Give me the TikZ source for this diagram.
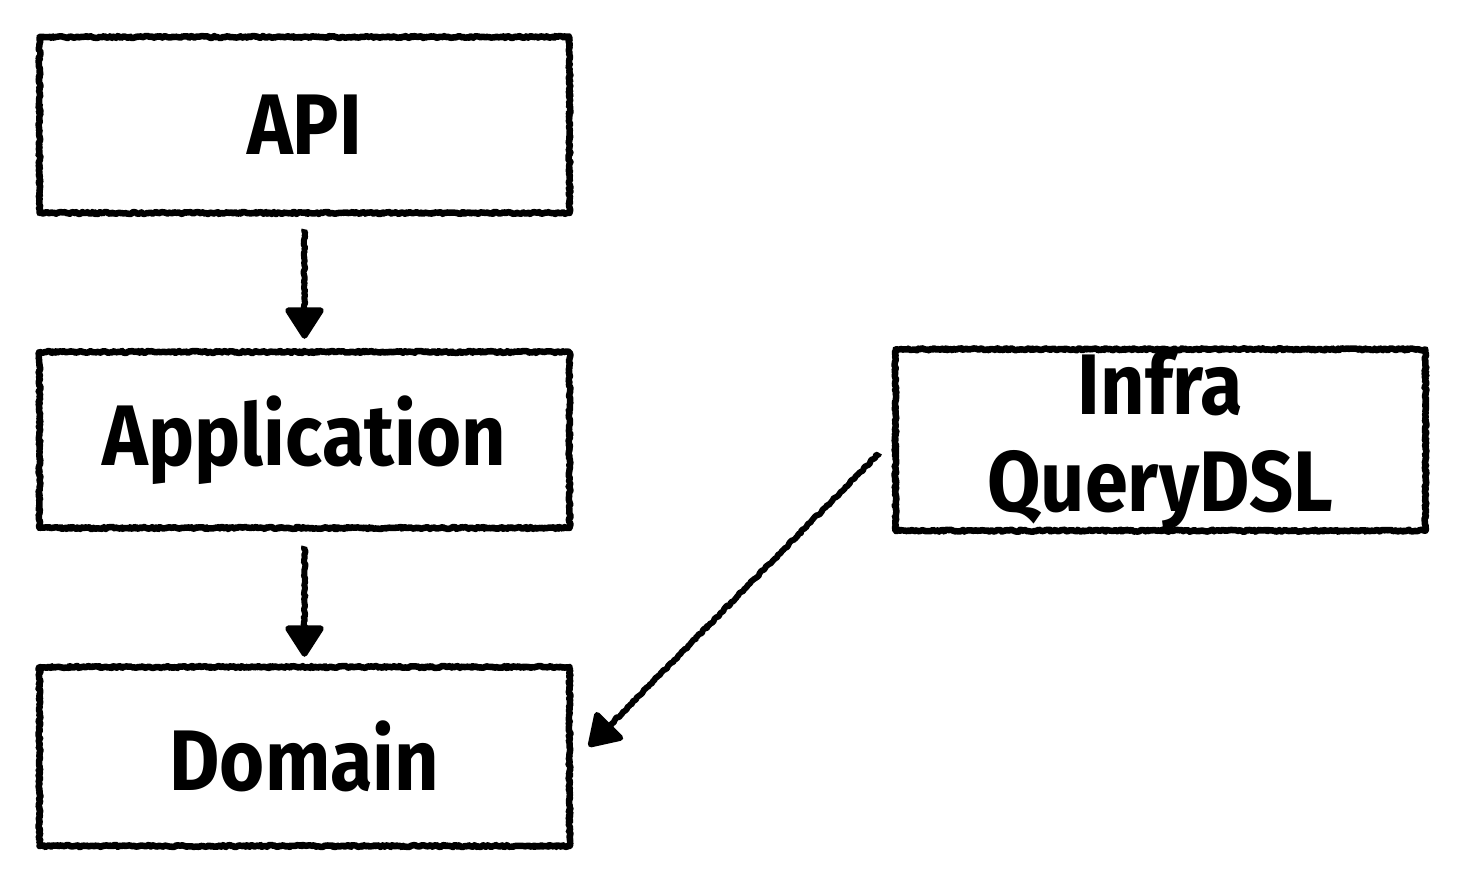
\documentclass[tikz,border=0pt]{standalone}
\usepackage{fontspec}
\setmainfont{Fira Sans}[UprightFont=* Bold,FakeStretch=0.9]
\usetikzlibrary{arrows.meta,decorations.pathmorphing,calc}
\begin{document}
\begin{tikzpicture}[x=1pt,y=-1pt,
  rough/.style={decorate,decoration={random steps,segment length=1.6pt,amplitude=1pt}},
  layer/.style={draw=black,line width=6.5pt,line join=round,line cap=round,rough,minimum width=530pt,inner sep=0pt,align=center,
    font=\fontsize{86}{97}\selectfont},
  arr/.style={line width=6pt,line join=round,decorate,decoration={random steps,segment length=2pt,amplitude=0.9pt,post length=12pt},
    -{Triangle[width=42pt,length=34pt,round]}}]
\pgfmathsetseed{7}
\useasboundingbox (0,0) rectangle (1464,880);
\node[layer,minimum height=176pt] (api) at (304.5,125) {API};
\node[layer,minimum height=176pt] (app) at (304.5,440) {Application};
\node[layer,minimum height=179pt] (dom) at (304.5,756.5) {Domain};
\node[layer,minimum height=176pt] (infra) at (1160.5,440) {Infra\\QueryDSL};
\coordinate (a1) at ([yshift=-13pt]api.south);
\coordinate (a2) at ([yshift=10pt]app.north);
\coordinate (b1) at ([yshift=-15pt]app.south);
\coordinate (b2) at ([yshift=7pt]dom.north);
\coordinate (s) at ([xshift=-13pt,yshift=-13pt]infra.west);
\coordinate (t) at ([xshift=16pt,yshift=10pt]dom.east);
\draw[arr] (a1) -- (a2);
\draw[arr] (b1) -- (b2);
\draw[arr] (s) -- (t);
\end{tikzpicture}
\end{document}
